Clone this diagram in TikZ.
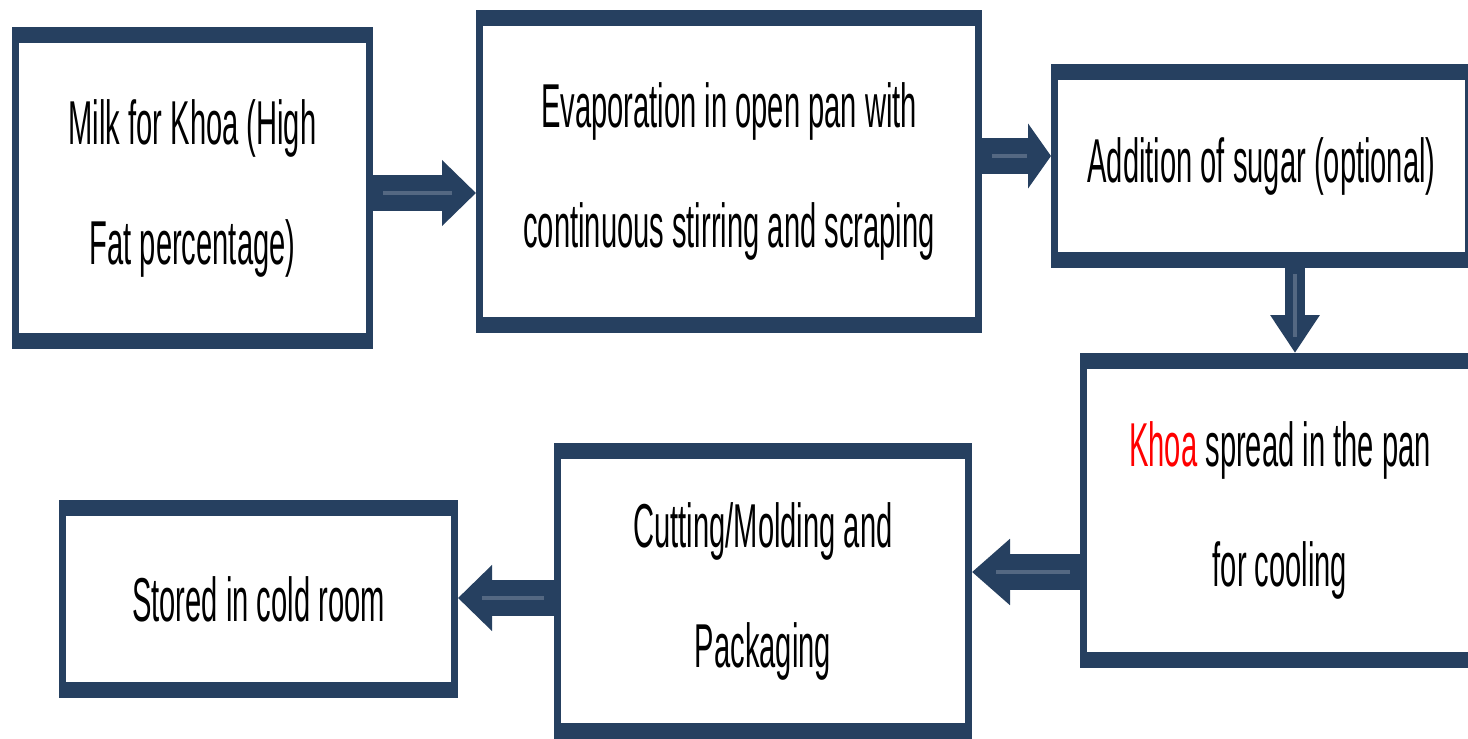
\documentclass[tikz,border=0pt]{standalone}
\usepackage{fontspec}
\setmainfont{Liberation Sans}[FakeStretch=0.47]
\usetikzlibrary{arrows.meta}
\definecolor{flownavy}{RGB}{38,64,96}
\definecolor{flowstripe}{RGB}{84,104,130}
\definecolor{khoared}{RGB}{255,0,0}

\tikzset{
  stagebox/.style={fill=flownavy, inner sep=0pt, outer sep=0pt, align=center,
    font=\fontsize{31}{60}\selectfont,
    path picture={\fill[white] ([xshift=3.5pt,yshift=-8pt]path picture bounding box.north west)
      rectangle ([xshift=-3.5pt,yshift=8pt]path picture bounding box.south east);}},
  hflow/.style={draw=flownavy, line width=18pt, -{Triangle[length=#1,width=32pt]},
    postaction={draw=flowstripe, line width=2pt, -, shorten <=5pt, shorten >=12pt}},
  hflow/.default=17pt,
  vflow/.style={draw=flownavy, line width=10pt, -{Triangle[length=19pt,width=23.5pt]},
    postaction={draw=flowstripe, line width=2pt, -, shorten <=3pt, shorten >=8pt}}
}

\begin{document}
\begin{tikzpicture}[x=0.5pt,y=-0.5pt]
\clip (0,0) rectangle (1468,739);
\fill[white] (0,0) rectangle (1468,739);

% Stages
\node[stagebox, minimum width=180.5pt, minimum height=161pt] (milk) at (192.5,188) {Milk for Khoa (High\\Fat percentage)};
\node[stagebox, minimum width=253pt, minimum height=161.5pt] (evap) at (729,171.5) {Evaporation in open pan with\\continuous stirring and scraping};
\node[stagebox, minimum width=210.5pt, minimum height=102pt] (sugar) at (1261.5,166) {Addition of sugar (optional)};
\node[stagebox, minimum width=200pt, minimum height=157.5pt] (spread) at (1280,510.5) {{\color{khoared}Khoa} spread in the pan\\for cooling};
\node[stagebox, minimum width=209pt, minimum height=148pt] (cut) at (763,591) {Cutting/Molding and\\Packaging};
\node[stagebox, minimum width=199.5pt, minimum height=99pt] (store) at (258.5,599) {Stored in cold room};

% Flow arrows
\draw[hflow] ([yshift=-2.5pt]milk.east) coordinate (m1) -- (m1 -| evap.west);
\draw[hflow=11.5pt] ([yshift=7.75pt]evap.east) coordinate (e1) -- (e1 -| sugar.west);
\draw[vflow] ([xshift=16.75pt]sugar.south) coordinate (s1) -- (s1 |- spread.north);
\draw[hflow=19pt] ([yshift=-30.75pt]spread.west) coordinate (k1) -- (k1 -| cut.east);
\draw[hflow] ([yshift=-3.5pt]cut.west) coordinate (c1) -- (c1 -| store.east);
\end{tikzpicture}
\end{document}
